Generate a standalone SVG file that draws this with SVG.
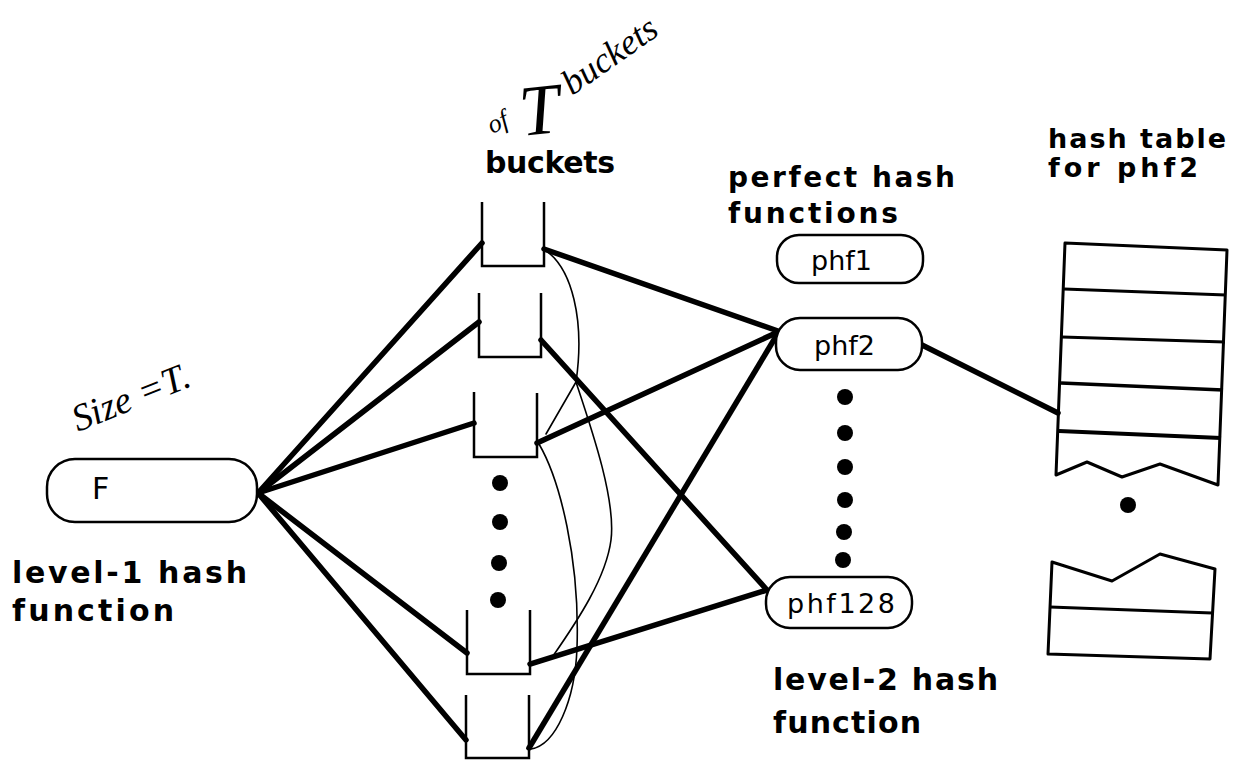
<svg xmlns="http://www.w3.org/2000/svg" width="1250" height="762" viewBox="0 0 1250 762">
  <style>
    .lbl { font-family: "DejaVu Sans", "Liberation Sans", sans-serif; font-weight: bold; fill: #000; }
    .nodetxt { font-family: "DejaVu Sans", "Liberation Sans", sans-serif; font-size: 27px; fill: #000; }
    .big { font-size: 30px; }
    .hand { font-family: "Liberation Serif", "DejaVu Serif", serif; font-style: italic; fill: #000; }
    .box { fill: #fff; stroke: #000; stroke-width: 2.5; }
    .bucket { fill: none; stroke: #000; stroke-width: 2.5; }
    .edge { fill: none; stroke: #000; stroke-width: 5.5; stroke-linecap: round; }
    .thin { fill: none; stroke: #000; stroke-width: 1.6; stroke-linecap: round; }
    .tbl { fill: none; stroke: #000; stroke-width: 3; stroke-linejoin: round; }
    .dot { fill: #000; }
  </style>

  <!-- connectors -->
  <g id="connectors">
    <!-- F to each bucket -->
    <path class="edge" d="M258,493 L482,243"/>
    <path class="edge" d="M258,493 L479,322"/>
    <path class="edge" d="M258,493 L474,423"/>
    <path class="edge" d="M258,493 L467,653"/>
    <path class="edge" d="M258,493 L466,740"/>
    <!-- buckets to perfect hash functions -->
    <path class="edge" d="M544,249 L778,331"/>
    <path class="edge" d="M541,340 L767,590"/>
    <path class="edge" d="M537,443 L778,332"/>
    <path class="edge" d="M530,664 L767,590"/>
    <path class="edge" d="M529,748 L778,333"/>
    <!-- phf2 to its table -->
    <path class="edge" d="M922,345 L1058,413"/>
    <!-- pencilled links between buckets -->
    <path class="thin" d="M545,250 C572,268 585,320 576,382"/>
    <path class="thin" d="M576,382 L546,434"/>
    <path class="thin" d="M576,382 C592,430 616,500 611,540 C606,578 578,620 553,656"/>
    <path class="thin" d="M539,444 C560,480 580,560 577,648 C575,700 556,745 531,749"/>
  </g>

  <!-- level-1 hash function -->
  <g id="node-F">
    <rect class="box" x="47" y="459" width="210" height="63" rx="28"/>
    <text class="nodetxt big" x="92" y="499">F</text>
  </g>

  <!-- buckets -->
  <g id="bucket-1"><path class="bucket" d="M482,202 V266 H544 V202"/></g>
  <g id="bucket-2"><path class="bucket" d="M479,293 V357 H541 V293"/></g>
  <g id="bucket-3"><path class="bucket" d="M474,392 V457 H537 V393"/></g>
  <g id="bucket-dots">
    <circle class="dot" cx="500" cy="483" r="8"/>
    <circle class="dot" cx="500" cy="522" r="8"/>
    <circle class="dot" cx="499" cy="563" r="8"/>
    <circle class="dot" cx="498" cy="600" r="8"/>
  </g>
  <g id="bucket-4"><path class="bucket" d="M467,610 V674 H530 V610"/></g>
  <g id="bucket-5"><path class="bucket" d="M466,695 V758 H529 V695"/></g>

  <!-- perfect hash functions -->
  <g id="node-phf1">
    <rect class="box" x="777" y="235" width="146" height="48" rx="22"/>
    <text class="nodetxt" x="811" y="270">phf1</text>
  </g>
  <g id="node-phf2">
    <rect class="box" x="776" y="318" width="146" height="52" rx="24"/>
    <text class="nodetxt" x="814" y="355">phf2</text>
  </g>
  <g id="phf-dots">
    <circle class="dot" cx="845" cy="397" r="8"/>
    <circle class="dot" cx="845" cy="433" r="8"/>
    <circle class="dot" cx="845" cy="467" r="8"/>
    <circle class="dot" cx="845" cy="500" r="8"/>
    <circle class="dot" cx="844" cy="532" r="8"/>
    <circle class="dot" cx="843" cy="560" r="8"/>
  </g>
  <g id="node-phf128">
    <rect class="box" x="766" y="577" width="146" height="51" rx="24"/>
    <text class="nodetxt" x="787" y="613" textLength="108" lengthAdjust="spacing">phf128</text>
  </g>

  <!-- hash table for phf2 -->
  <g id="hash-table">
    <path class="tbl" d="M1065,243 L1227,250 L1218,485 L1160,464 L1122,477 L1087,462 L1056,475 Z"/>
    <path class="tbl" d="M1064,289 L1226,295"/>
    <path class="tbl" d="M1062,337 L1225,342"/>
    <path class="tbl" d="M1061,383 L1223,390" style="stroke-width:3.5"/>
    <path class="tbl" d="M1059,431 L1221,438" style="stroke-width:4"/>
    <circle class="dot" cx="1128" cy="505" r="8"/>
    <path class="tbl" d="M1052,562 L1112,581 L1160,554 L1215,569 L1210,659 L1048,654 Z"/>
    <path class="tbl" d="M1050,607 L1212,613"/>
  </g>

  <!-- labels -->
  <g id="labels">
    <text class="lbl" x="485" y="173" font-size="30" textLength="130" lengthAdjust="spacing">buckets</text>
    <text class="lbl" x="728" y="187" font-size="28" textLength="227" lengthAdjust="spacing">perfect hash</text>
    <text class="lbl" x="728" y="223" font-size="28" textLength="170" lengthAdjust="spacing">functions</text>
    <text class="lbl" x="1048" y="148" font-size="27" textLength="178" lengthAdjust="spacing">hash table</text>
    <text class="lbl" x="1048" y="177" font-size="27" textLength="150" lengthAdjust="spacing">for phf2</text>
    <text class="lbl" x="12" y="583" font-size="30" textLength="235" lengthAdjust="spacing">level-1 hash</text>
    <text class="lbl" x="12" y="621" font-size="30" textLength="162" lengthAdjust="spacing">function</text>
    <text class="lbl" x="773" y="690" font-size="30" textLength="225" lengthAdjust="spacing">level-2 hash</text>
    <text class="lbl" x="773" y="733" font-size="30" textLength="148" lengthAdjust="spacing">function</text>
  </g>

  <!-- pencilled notes -->
  <g id="notes">
    <text class="hand" x="78" y="432" font-size="38" transform="rotate(-22 78 432)">Size =T.</text>
    <text class="hand" x="492" y="134" font-size="26" transform="rotate(-25 492 134)">of</text>
    <text class="hand" x="522" y="136" font-size="72" transform="rotate(-6 522 136)">T</text>
    <text class="hand" x="572" y="96" font-size="36" transform="rotate(-35 572 96)">buckets</text>
  </g>
</svg>
